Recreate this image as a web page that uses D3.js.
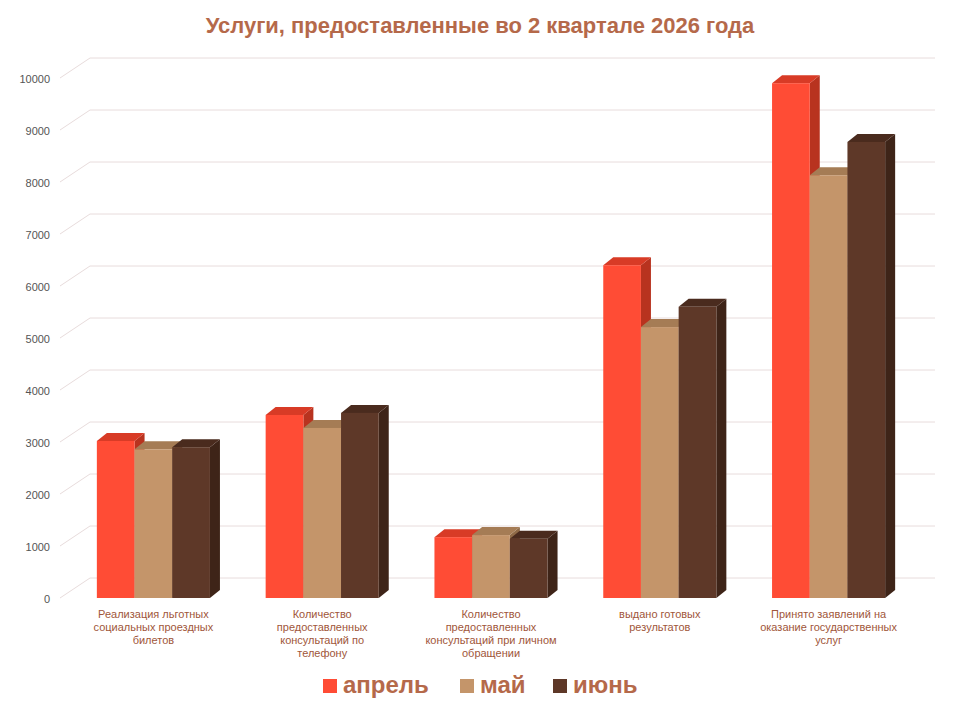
<!DOCTYPE html>
<html><head><meta charset="utf-8">
<script src="https://cdn.jsdelivr.net/npm/d3@7"></script>
<style>body{margin:0;background:#fff;font-family:Arial,"Liberation Sans",sans-serif}</style>
</head><body><svg id="chart" width="960" height="720"></svg>
<script>
var categories = [
  ["Реализация льготных","социальных проездных","билетов"],
  ["Количество","предоставленных","консультаций  по","телефону"],
  ["Количество","предоставленных","консультаций  при личном","обращении"],
  ["выдано готовых","результатов"],
  ["Принято заявлений на","оказание государственных","услуг"]
];
var series = ["апрель","май","июнь"];
var april = [3020, 3520, 1170, 6400, 9900];
var may = [2860, 3270, 1210, 5210, 8130];
var june = [2900, 3560, 1140, 5600, 8770];
var ticks = [0,1000,2000,3000,4000,5000,6000,7000,8000,9000,10000];

var colors = ["#ff4c35","#c4956a","#5e3828"];
var sides = ["#b8331f","#8f6a47","#3e2418"];
var tops = ["#d83b26","#a57c55","#4a2b1e"];
var values = [april, may, june];

var svg = d3.select("#chart");
var dx = 10, dy = 8;
var y = d3.scaleLinear().domain([0,10000]).range([598,78]);
var x = d3.scaleBand().domain(d3.range(categories.length)).range([69,913]).paddingInner(0.33).paddingOuter(0.165);
var xs = d3.scaleBand().domain(d3.range(series.length)).range([0,x.bandwidth()]);

svg.append("text").attr("x",480).attr("y",33).attr("text-anchor","middle")
  .attr("font-size",22).attr("font-weight","bold").attr("fill","#b5694a")
  .text("Услуги, предоставленные во 2 квартале 2026 года");

// grid (back wall, shifted) with slanted left edge
ticks.forEach(function(t){
  var yy = y(t);
  svg.append("path").attr("d","M60,"+(yy)+"L90,"+(yy-20)+"L935,"+(yy-20))
    .attr("fill","none").attr("stroke","#e8dcdc").attr("stroke-width",1);
  svg.append("text").attr("x",50).attr("y",yy+5).attr("text-anchor","end")
    .attr("font-size",11).attr("fill","#555").text(t);
});

categories.forEach(function(c,i){
  series.forEach(function(s,j){
    var x0 = x(i)+xs(j), w = xs.bandwidth(), v = values[j][i];
    var y0 = y(v), yb = y(0);
    var g = svg.append("g");
    g.append("path").attr("d","M"+(x0+w)+","+y0+"L"+(x0+w+dx)+","+(y0-dy)+"L"+(x0+w+dx)+","+(yb-dy)+"L"+(x0+w)+","+yb+"Z").attr("fill",sides[j]);
    g.append("path").attr("d","M"+x0+","+y0+"L"+(x0+dx)+","+(y0-dy)+"L"+(x0+w+dx)+","+(y0-dy)+"L"+(x0+w)+","+y0+"Z").attr("fill",tops[j]);
    g.append("rect").attr("x",x0).attr("y",y0).attr("width",w).attr("height",yb-y0).attr("fill",colors[j]);
  });
  var t = svg.append("text").attr("text-anchor","middle").attr("font-size",11).attr("fill","#a0563a");
  c.forEach(function(line,k){
    t.append("tspan").attr("x",x(i)+x.bandwidth()/2).attr("y",618+k*13).text(line);
  });
});

var lg = svg.append("g").attr("transform","translate(323,693)");
var offs = [0,137,230];
series.forEach(function(s,j){
  lg.append("rect").attr("x",offs[j]).attr("y",-14).attr("width",14).attr("height",14).attr("fill",colors[j]);
  lg.append("text").attr("x",offs[j]+20).attr("y",0).attr("font-size",24).attr("font-weight","bold")
    .attr("fill","#b5694a").text(s);
});
</script></body></html>
